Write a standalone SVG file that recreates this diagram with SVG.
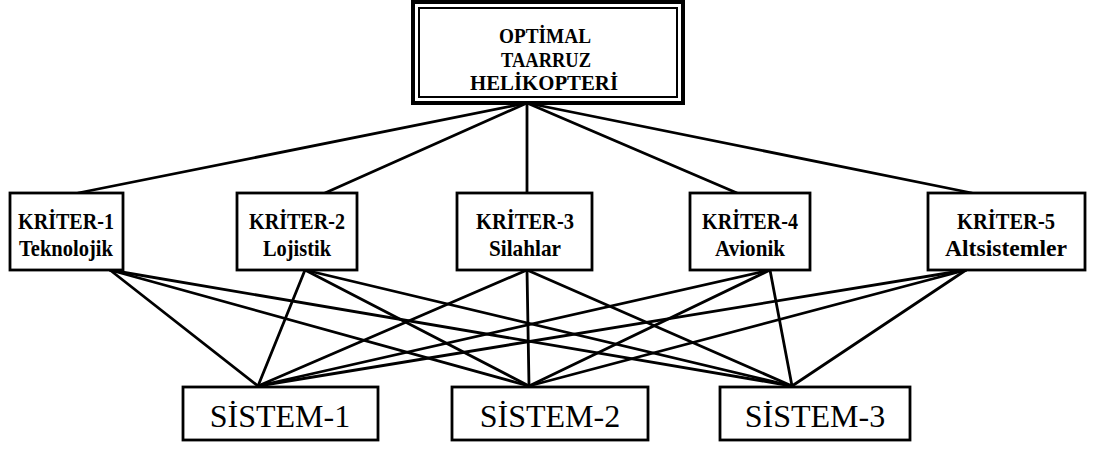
<svg xmlns="http://www.w3.org/2000/svg" width="1094" height="449" viewBox="0 0 1094 449">
  <style>
    .box { fill: #fff; stroke: #000; stroke-width: 2.8; }
    .outer { fill: #fff; stroke: #000; stroke-width: 4; }
    .inner { fill: none; stroke: #000; stroke-width: 2; }
    .conn line { stroke: #000; stroke-width: 2.8; stroke-linecap: round; }
    .goal { font-family: "Liberation Serif", "Times New Roman", serif; font-weight: bold; font-size: 22px; text-anchor: middle; }
    .crit { font-family: "Liberation Serif", "Times New Roman", serif; font-weight: bold; font-size: 23px; text-anchor: middle; }
    .sys { font-family: "Liberation Serif", "Times New Roman", serif; font-size: 32px; text-anchor: middle; }
  </style>
  <rect width="1094" height="449" fill="#fff"/>

  <!-- connectors: goal to criteria, criteria to alternatives -->
  <g id="connectors" class="conn">
    <line x1="527" y1="103" x2="78" y2="193"/>
    <line x1="527" y1="103" x2="325" y2="193"/>
    <line x1="527" y1="103" x2="527" y2="193"/>
    <line x1="527" y1="103" x2="737" y2="193"/>
    <line x1="527" y1="103" x2="972" y2="193"/>

    <line x1="110" y1="270" x2="258" y2="386"/>
    <line x1="110" y1="270" x2="529" y2="386"/>
    <line x1="110" y1="270" x2="792" y2="386"/>

    <line x1="305" y1="270" x2="258" y2="386"/>
    <line x1="305" y1="270" x2="529" y2="386"/>
    <line x1="305" y1="270" x2="792" y2="386"/>

    <line x1="527" y1="270" x2="258" y2="386"/>
    <line x1="527" y1="270" x2="529" y2="386"/>
    <line x1="527" y1="270" x2="792" y2="386"/>

    <line x1="770" y1="270" x2="258" y2="386"/>
    <line x1="770" y1="270" x2="529" y2="386"/>
    <line x1="770" y1="270" x2="792" y2="386"/>

    <line x1="966" y1="270" x2="258" y2="386"/>
    <line x1="966" y1="270" x2="529" y2="386"/>
    <line x1="966" y1="270" x2="792" y2="386"/>
  </g>

  <!-- goal -->
  <g id="goal">
    <rect class="outer" x="413" y="2" width="270" height="101"/>
    <rect class="inner" x="419" y="8" width="258" height="89"/>
    <text class="goal" x="545" y="43" textLength="92" lengthAdjust="spacingAndGlyphs">OPTİMAL</text>
    <text class="goal" x="546" y="67" textLength="90" lengthAdjust="spacingAndGlyphs">TAARRUZ</text>
    <text class="goal" x="544" y="90" textLength="148" lengthAdjust="spacingAndGlyphs">HELİKOPTERİ</text>
  </g>

  <!-- criteria -->
  <g id="kriter-1">
    <rect class="box" x="10" y="193" width="113" height="77"/>
    <text class="crit" x="66" y="229" textLength="96" lengthAdjust="spacingAndGlyphs">KRİTER-1</text>
    <text class="crit" x="66" y="256" textLength="94" lengthAdjust="spacingAndGlyphs">Teknolojik</text>
  </g>
  <g id="kriter-2">
    <rect class="box" x="237" y="193" width="120" height="77"/>
    <text class="crit" x="297" y="229" textLength="96" lengthAdjust="spacingAndGlyphs">KRİTER-2</text>
    <text class="crit" x="297" y="256" textLength="68" lengthAdjust="spacingAndGlyphs">Lojistik</text>
  </g>
  <g id="kriter-3">
    <rect class="box" x="457" y="193" width="135" height="77"/>
    <text class="crit" x="525" y="229" textLength="98" lengthAdjust="spacingAndGlyphs">KRİTER-3</text>
    <text class="crit" x="525" y="256" textLength="72" lengthAdjust="spacingAndGlyphs">Silahlar</text>
  </g>
  <g id="kriter-4">
    <rect class="box" x="690" y="193" width="120" height="77"/>
    <text class="crit" x="750" y="229" textLength="96" lengthAdjust="spacingAndGlyphs">KRİTER-4</text>
    <text class="crit" x="750" y="256" textLength="70" lengthAdjust="spacingAndGlyphs">Avionik</text>
  </g>
  <g id="kriter-5">
    <rect class="box" x="928" y="193" width="157" height="77"/>
    <text class="crit" x="1006" y="229" textLength="98" lengthAdjust="spacingAndGlyphs">KRİTER-5</text>
    <text class="crit" x="1006" y="256" textLength="122" lengthAdjust="spacingAndGlyphs">Altsistemler</text>
  </g>

  <!-- alternatives -->
  <g id="sistem-1">
    <rect class="box" x="183" y="387" width="195" height="53"/>
    <text class="sys" x="280" y="427">SİSTEM-1</text>
  </g>
  <g id="sistem-2">
    <rect class="box" x="452" y="387" width="196" height="53"/>
    <text class="sys" x="550" y="427">SİSTEM-2</text>
  </g>
  <g id="sistem-3">
    <rect class="box" x="720" y="387" width="190" height="53"/>
    <text class="sys" x="815" y="427">SİSTEM-3</text>
  </g>
</svg>
